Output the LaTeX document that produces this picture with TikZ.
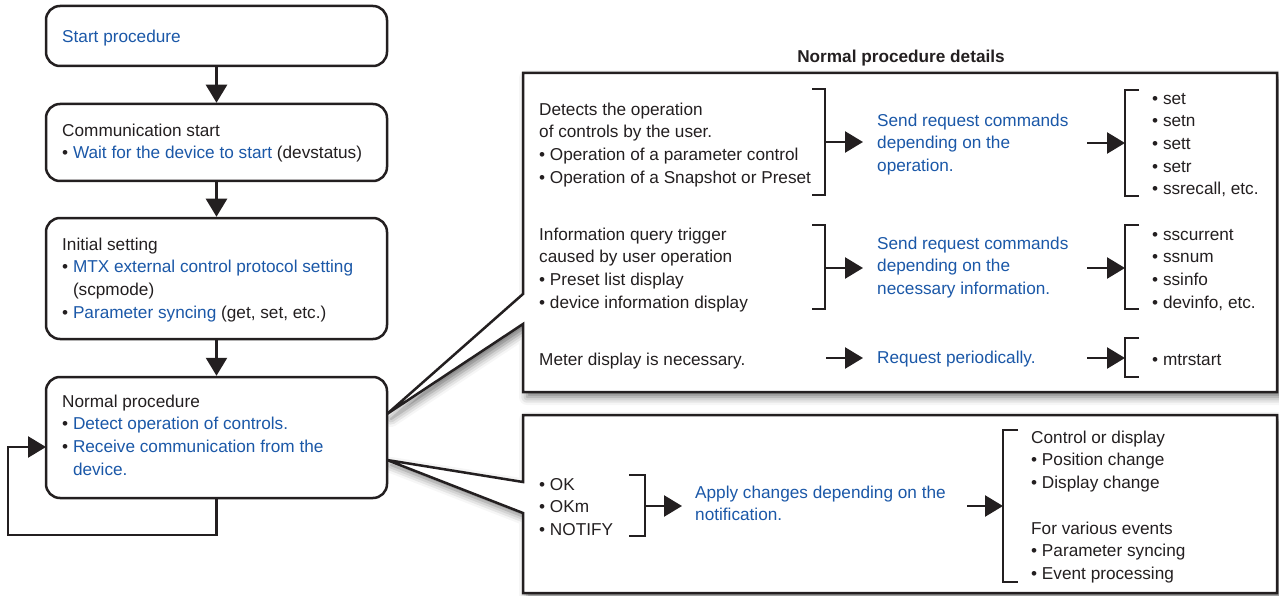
\documentclass[tikz,border=0pt]{standalone}
\usepackage{fontspec}
\setmainfont{Liberation Sans}
\usetikzlibrary{arrows.meta,shadows.blur}
\definecolor{txtblue}{RGB}{27,88,168}
\definecolor{ink}{RGB}{35,31,32}
\newcommand{\bl}[1]{\textcolor{txtblue}{#1}}
\newcommand{\fs}{\rule{0pt}{14pt}}
\newcommand{\ind}{\phantom{• }}
\begin{document}
\begin{tikzpicture}[x=1pt,y=-1pt,
  every node/.style={font=\fontsize{17.2}{22.7}\selectfont, text=ink, inner sep=0pt},
  txt/.style={anchor=north west, align=left},
  flowbox/.style={draw=ink, line width=2.5pt, rounded corners=14pt, fill=white, minimum width=341pt},
  callout/.style={draw=ink, line width=2.5pt, fill=white,
    blur shadow={shadow xshift=4pt, shadow yshift=-5pt, shadow blur radius=8pt, shadow opacity=55}},
  arr/.style={draw=ink, line width=2.5pt, -{Triangle[length=18pt,width=21pt]}},
  brk/.style={draw=ink, line width=2.5pt},
]
\useasboundingbox (0,0) rectangle (1279,596);

% callout frames
\path[callout] (523,73) -- (1277,73) -- (1277,392) -- (523,392) -- (523,324) -- (387,414) -- (523,294) -- cycle;
\path[callout] (523,415) -- (1277,415) -- (1277,593) -- (523,593) -- (523,513) -- (387,460) -- (523,482) -- cycle;

% flow boxes
\node[flowbox, minimum height=60pt]  (b1) at (216.5,36) {};
\node[flowbox, minimum height=77pt]  (b2) at (216.5,142.5) {};
\node[flowbox, minimum height=121pt] (b3) at (216.5,278.5) {};
\node[flowbox, minimum height=121pt] (b4) at (216.5,437.5) {};

\node[txt] (t1) at (62,28) {\fs\bl{Start procedure}};
\node[txt] (t2) at (62,122) {\fs Communication start\\• \bl{Wait for the device to start} (devstatus)};
\node[txt] (t3) at (62,236) {\fs Initial setting\\• \bl{MTX external control protocol setting}\\\ind(scpmode)\\• \bl{Parameter syncing} (get, set, etc.)};
\node[txt] (t4) at (62,393) {\fs Normal procedure\\• \bl{Detect operation of controls.}\\• \bl{Receive communication from the}\\\ind\bl{device.}};

\draw[arr] (b1.south) -- (b2.north);
\draw[arr] (b2.south) -- (b3.north);
\draw[arr] (b3.south) -- (b4.north);
\coordinate (lpa) at (8,535);
\coordinate (lpin) at (46,447);
\draw[arr] (b4.south) |- (lpa) |- (lpin);

% title
\node[anchor=base, font=\fontsize{17.2}{22.7}\selectfont\bfseries] (title) at (901,63) {Normal procedure details};

% row 1
\node[txt] (r1a) at (539,101) {\fs Detects the operation\\of controls by the user.\\• Operation of a parameter control\\• Operation of a Snapshot or Preset};
\node[txt] (r1b) at (877,112) {\fs\bl{Send request commands}\\\bl{depending on the}\\\bl{operation.}};
\node[txt] (r1c) at (1152,90) {\fs • set\\• setn\\• sett\\• setr\\• ssrecall, etc.};
\draw[brk] (812,89) -- (825,89) -- (825,195) -- (812,195);
\draw[brk] (1139,90) -- (1125,90) -- (1125,196) -- (1139,196);
\coordinate (a1s) at (825,142); \coordinate (a1e) at (863,142);
\coordinate (a2s) at (1087,143); \coordinate (a2e) at (1125,143);
\draw[arr] (a1s) -- (a1e);
\draw[arr] (a2s) -- (a2e);

% row 2
\node[txt] (r2a) at (539,226) {\fs Information query trigger\\caused by user operation\\• Preset list display\\• device information display};
\node[txt] (r2b) at (877,235) {\fs\bl{Send request commands}\\\bl{depending on the}\\\bl{necessary information.}};
\node[txt] (r2c) at (1152,226) {\fs • sscurrent\\• ssnum\\• ssinfo\\• devinfo, etc.};
\draw[brk] (812,225) -- (825,225) -- (825,309) -- (812,309);
\draw[brk] (1139,225) -- (1125,225) -- (1125,309) -- (1139,309);
\coordinate (b1s) at (825,268); \coordinate (b1e) at (863,268);
\coordinate (b2s) at (1087,268); \coordinate (b2e) at (1125,268);
\draw[arr] (b1s) -- (b1e);
\draw[arr] (b2s) -- (b2e);

% row 3
\node[txt] (r3a) at (539,351) {\fs Meter display is necessary.};
\node[txt] (r3b) at (877,349) {\fs\bl{Request periodically.}};
\node[txt] (r3c) at (1152,351) {\fs • mtrstart};
\draw[brk] (1139,338) -- (1125,338) -- (1125,377) -- (1139,377);
\coordinate (c1s) at (826,358); \coordinate (c1e) at (863,358);
\coordinate (c2s) at (1087,358); \coordinate (c2e) at (1125,358);
\draw[arr] (c1s) -- (c1e);
\draw[arr] (c2s) -- (c2e);

% lower callout
\node[txt] (l1) at (539,476) {\fs • OK\\• OKm\\• NOTIFY};
\node[txt] (l2) at (695,484) {\fs\bl{Apply changes depending on the}\\\bl{notification.}};
\node[txt] (l3) at (1031,429) {\fs Control or display\\• Position change\\• Display change\\[22.7pt]For various events\\• Parameter syncing\\• Event processing};
\draw[brk] (629,475) -- (645,475) -- (645,536) -- (629,536);
\draw[brk] (1018,430) -- (1003,430) -- (1003,582) -- (1018,582);
\coordinate (d1s) at (645,506); \coordinate (d1e) at (682,506);
\coordinate (d2s) at (967,506); \coordinate (d2e) at (1003,506);
\draw[arr] (d1s) -- (d1e);
\draw[arr] (d2s) -- (d2e);
\end{tikzpicture}
\end{document}
